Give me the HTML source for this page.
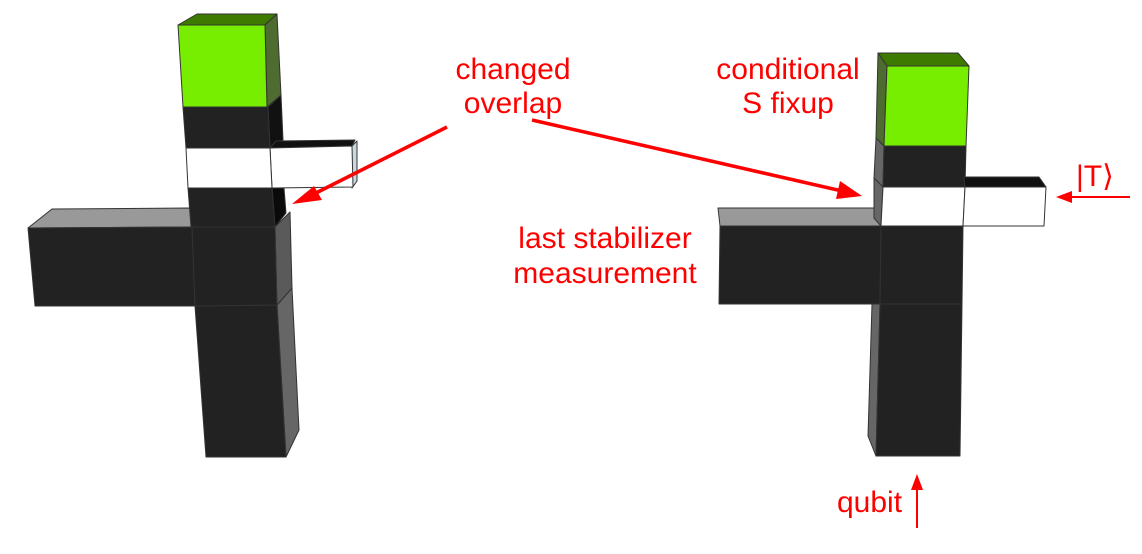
<!DOCTYPE html>
<html><head><meta charset="utf-8"><style>
html,body{margin:0;padding:0;background:#fff;}
svg{display:block;}
text{font-family:"Liberation Sans",Arial,sans-serif;font-size:30px;fill:#f00;}
</style></head><body>
<svg width="1142" height="554" viewBox="0 0 1142 554" xmlns="http://www.w3.org/2000/svg">
<g stroke="#333" stroke-width="1" stroke-linejoin="round">
<polygon points="277,305 292,288 299,430 286,457" fill="#666"/>
<polygon points="195,306 277,305 286,457 206,457" fill="#222"/>
<polygon points="275,227 290,212 292,288 277,305" fill="#5a5a5a"/>
<polygon points="28,228 52,209 190,208 192,227" fill="#999"/>
<polygon points="28,228 192,227 195,306 35,306" fill="#222"/>
<polygon points="192,227 275,227 277,305 195,306" fill="#222"/>
<polygon points="272,188 284,188 286,213 275,227" fill="#0a0a0a"/>
<polygon points="188,188 272,188 275,227 191,227" fill="#222"/>
<polygon points="268,107 281,95 283,140 270,148" fill="#111"/>
<polygon points="183,107 268,107 270,148 186,148" fill="#222"/>
<polygon points="270,148 276,141 355,140 352,146" fill="#111"/>
<polygon points="352,146 357,141 357,181 352,188" fill="#c8d8e0"/>
<polygon points="270,148 352,146 353,187 272,188" fill="#fff"/>
<polygon points="186,148 270,148 272,188 188,188" fill="#fff"/>
<polygon points="178,25 197,14 277,14 265,25" fill="#3f7a00"/>
<polygon points="265,25 277,14 281,95 267,107" fill="#4e6b30"/>
<polygon points="178,25 265,25 267,107 183,107" fill="#77ee00"/>

<polygon points="872,304 880,304 876,456 868,436" fill="#666"/>
<polygon points="880,304 962,304 960,456 876,456" fill="#222"/>
<polygon points="718,208 876,208 881,226 720,226" fill="#999"/>
<polygon points="720,226 881,226 880,304 719,304" fill="#222"/>
<polygon points="881,226 963,226 962,304 880,304" fill="#222"/>
<polygon points="876,138 884,146 883,187 874,178" fill="#666"/>
<polygon points="874,178 883,187 881,226 874,218" fill="#666"/>
<polygon points="884,146 966,146 965,187 883,187" fill="#222"/>
<polygon points="964,177 1039,177 1046,187 965,187" fill="#111"/>
<polygon points="883,187 965,187 963,226 881,226" fill="#fff"/>
<polygon points="965,187 1046,187 1044,226 963,226" fill="#fff"/>
<polygon points="878,53 958,53 969,66 887,66" fill="#3f7a00"/>
<polygon points="878,53 887,66 884,146 876,138" fill="#4e6b30"/>
<polygon points="887,66 969,66 966,146 884,146" fill="#77ee00"/>
</g>

<g stroke="#f00" stroke-width="3.5" fill="none">
<line x1="447" y1="127" x2="310" y2="196"/>
<line x1="532" y1="120" x2="842" y2="191"/>
<line x1="1130" y1="197" x2="1070" y2="197" stroke-width="2"/>
<line x1="917" y1="528" x2="917" y2="488" stroke-width="2"/>
</g>
<g fill="#f00">
<polygon points="292,204 314,186 322,200"/>
<polygon points="862,196 840,181 836,199"/>
<polygon points="1056,197 1072,191 1072,203"/>
<polygon points="917,474 911,490 923,490"/>
</g>

<text x="513" y="79" text-anchor="middle">changed</text>
<text x="513" y="113" text-anchor="middle">overlap</text>
<text x="788" y="79" text-anchor="middle">conditional</text>
<text x="788" y="113" text-anchor="middle">S fixup</text>
<text x="605" y="248" text-anchor="middle">last stabilizer</text>
<text x="605" y="283" text-anchor="middle">measurement</text>
<text x="1076" y="186">|T⟩</text>
<text x="837" y="512">qubit</text>
</svg>
</body></html>
